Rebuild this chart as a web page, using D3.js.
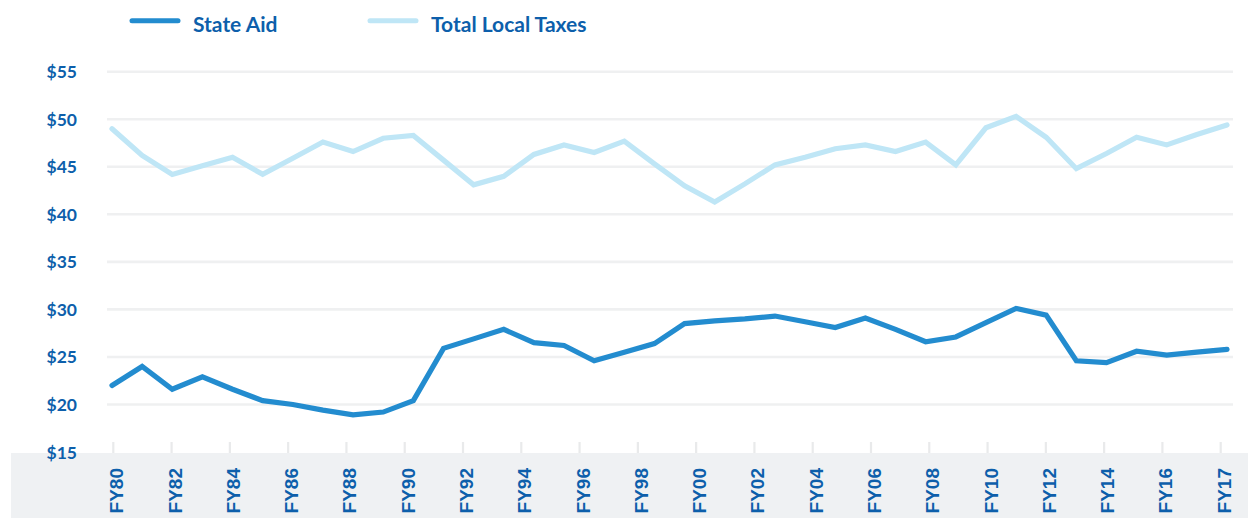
<!DOCTYPE html>
<html>
<head>
<meta charset="utf-8">
<script src="https://cdn.jsdelivr.net/npm/d3@7"></script>
<style>
  html, body { margin: 0; padding: 0; background: #ffffff; }
  svg { display: block; }
</style>
</head>
<body>
<svg id="chart" width="1248" height="518"></svg>
<script>
// ---- data ----
const years = ["FY80","FY81","FY82","FY83","FY84","FY85","FY86","FY87","FY88","FY89",
  "FY90","FY91","FY92","FY93","FY94","FY95","FY96","FY97","FY98","FY99",
  "FY00","FY01","FY02","FY03","FY04","FY05","FY06","FY07","FY08","FY09",
  "FY10","FY11","FY12","FY13","FY14","FY15","FY16","FY17"];
const stateAid = [22.0, 24.0, 21.6, 22.9, 21.6, 20.4, 20.0, 19.4, 18.9, 19.2,
  20.4, 25.9, 26.9, 27.9, 26.5, 26.2, 24.6, 25.5, 26.4, 28.5,
  28.8, 29.0, 29.3, 28.7, 28.1, 29.1, 27.9, 26.6, 27.1, 28.6,
  30.1, 29.4, 24.6, 24.4, 25.6, 25.2, 25.5, 25.8];
const totalLocalTaxes = [49.0, 46.2, 44.2, 45.1, 46.0, 44.2, 45.9, 47.6, 46.6, 48.0,
  48.3, 45.7, 43.1, 44.0, 46.3, 47.3, 46.5, 47.7, 45.3, 43.0,
  41.3, 43.2, 45.2, 46.0, 46.9, 47.3, 46.6, 47.6, 45.2, 49.1,
  50.3, 48.1, 44.8, 46.4, 48.1, 47.3, 48.4, 49.4];
const tickLabels = ["FY80","FY82","FY84","FY86","FY88","FY90","FY92","FY94","FY96","FY98",
  "FY00","FY02","FY04","FY06","FY08","FY10","FY12","FY14","FY16","FY17"];
const yTicks = [15, 20, 25, 30, 35, 40, 45, 50, 55];
const seriesNames = ["State Aid", "Total Local Taxes"];

// ---- style ----
const textBlue = "#0d5fab";
const aidColor = "#238ccf";
const taxColor = "#bfe6f6";
const gridColor = "#eff0f1";
const bandColor = "#eff1f3";

const svg = d3.select("#chart");

const x = d3.scaleLinear().domain([0, years.length - 1]).range([112, 1227]);
const xTick = d3.scalePoint().domain(tickLabels).range([113.3, 1220.7]);
const y = d3.scaleLinear().domain([15, 55]).range([452, 71.7]);

// grey band at bottom
svg.append("rect").attr("x", 11).attr("y", 453).attr("width", 1248 - 11).attr("height", 518 - 453)
  .attr("fill", bandColor);

// gridlines
svg.append("g").selectAll("line").data(yTicks.filter(d => d > 15)).join("line")
  .attr("x1", 107).attr("x2", 1233)
  .attr("y1", d => y(d)).attr("y2", d => y(d))
  .attr("stroke", gridColor).attr("stroke-width", 2.6);

// y labels
svg.append("g").selectAll("text").data(yTicks).join("text")
  .attr("x", 77).attr("y", d => y(d))
  .attr("text-anchor", "end").attr("dominant-baseline", "central")
  .attr("font-family", "Lato, 'Open Sans', sans-serif").attr("font-weight", 700)
  .attr("font-size", 17.5).attr("fill", textBlue)
  .text(d => "$" + d);

// x ticks
svg.append("g").selectAll("line").data(tickLabels).join("line")
  .attr("x1", d => xTick(d)).attr("x2", d => xTick(d))
  .attr("y1", 442).attr("y2", 453)
  .attr("stroke", "#e9eaeb").attr("stroke-width", 2.2);

// x labels
svg.append("g").selectAll("text").data(tickLabels).join("text")
  .attr("transform", d => `translate(${xTick(d) + 3.5},468) rotate(-90)`)
  .attr("text-anchor", "end").attr("dominant-baseline", "central")
  .attr("font-family", "'Liberation Sans', Arial, sans-serif").attr("font-weight", 700)
  .attr("font-size", 19).attr("fill", textBlue)
  .text(d => d);

// lines
const line = d3.line().x((d, i) => x(i)).y(d => y(d));
svg.append("path").datum(totalLocalTaxes).attr("d", line)
  .attr("fill", "none").attr("stroke", taxColor).attr("stroke-width", 5.2)
  .attr("stroke-linejoin", "miter").attr("stroke-linecap", "round");
svg.append("path").datum(stateAid).attr("d", line)
  .attr("fill", "none").attr("stroke", aidColor).attr("stroke-width", 5.2)
  .attr("stroke-linejoin", "miter").attr("stroke-linecap", "round");

// legend
const legend = [
  { name: seriesNames[0], color: aidColor, x0: 132, x1: 178, tx: 193 },
  { name: seriesNames[1], color: taxColor, x0: 370, x1: 416, tx: 431 }
];
const lg = svg.append("g");
lg.selectAll("line").data(legend).join("line")
  .attr("x1", d => d.x0).attr("x2", d => d.x1).attr("y1", 20.7).attr("y2", 20.7)
  .attr("stroke", d => d.color).attr("stroke-width", 5).attr("stroke-linecap", "round");
lg.selectAll("text").data(legend).join("text")
  .attr("x", d => d.tx).attr("y", 32)
  .attr("font-family", "Lato, 'Open Sans', sans-serif").attr("font-weight", 700)
  .attr("font-size", 21).attr("fill", textBlue)
  .text(d => d.name);
</script>
</body>
</html>
